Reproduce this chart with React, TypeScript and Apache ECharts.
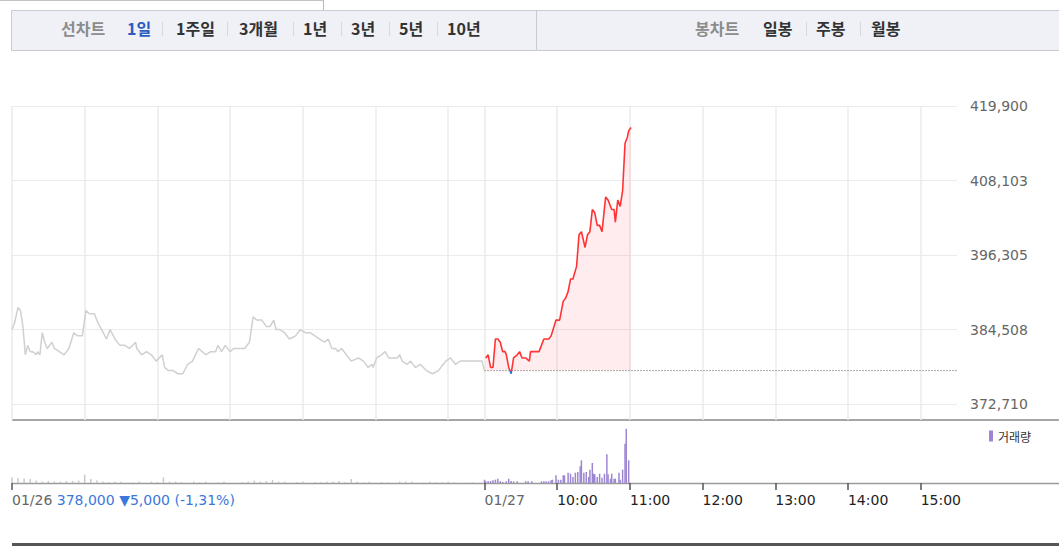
import React, { useEffect, useRef } from "react";
import * as echarts from "echarts";

// ---------- data ----------
// previous session (01/26), minutes after 09:00
const prevMinutes = [0, 2, 5, 7, 9, 11, 13, 15, 17, 20, 21, 23, 25, 27, 29, 33, 35, 39, 43, 47, 51, 54, 58, 61, 64, 68, 71, 74, 78, 81, 85, 89, 93, 97, 102, 103, 107, 111, 115, 119, 124, 126, 129, 133, 137, 141, 145, 149, 154, 157, 160, 164, 168, 170, 173, 176, 180, 183, 187, 192, 196, 199, 202, 206, 210, 213, 216, 218, 221, 225, 229, 234, 238, 242, 246, 250, 254, 258, 261, 264, 267, 269, 272, 276, 280, 286, 290, 294, 297, 298, 301, 305, 308, 311, 315, 318, 320, 322, 326, 329, 333, 337, 342, 347, 352, 356, 358, 362, 366, 370, 374, 381, 388, 390];
const prevPrices = [384500, 385500, 388000, 387500, 385000, 380500, 382000, 381000, 381000, 380500, 381000, 380500, 384000, 382500, 381500, 382500, 381500, 381000, 380500, 381500, 384000, 383500, 383500, 387500, 387000, 387000, 385500, 384500, 383000, 384500, 383000, 382000, 382000, 381500, 382500, 381500, 380500, 381000, 380500, 379500, 380500, 378500, 378000, 378000, 377500, 377500, 379000, 379500, 381500, 381000, 380500, 381000, 381000, 382000, 381000, 382000, 381000, 381500, 381500, 381500, 382500, 386500, 386000, 386000, 385000, 385000, 386000, 384500, 384500, 384000, 383000, 383500, 384500, 384000, 384000, 383500, 383000, 382500, 383000, 381500, 381500, 381000, 381500, 380500, 379500, 380000, 379500, 378500, 379000, 378500, 380000, 380500, 381000, 380000, 380000, 380000, 380500, 379500, 379000, 379500, 378500, 379000, 378000, 377500, 378000, 379000, 379500, 380000, 379000, 379500, 379500, 379500, 379500, 378000];

// current session (01/27), minutes on the same continuous axis (390 = 09:00)
const todayMinutes = [391, 393, 395, 397, 399, 401, 403, 405, 407, 408, 410, 412, 414, 417, 419, 421, 424, 427, 428, 432, 435, 439, 443, 445, 449, 452, 455, 457, 459, 461, 463, 466, 468, 470, 473, 475, 477, 479, 481, 483, 485, 487, 490, 492, 495, 497, 498, 500, 502, 504, 506, 508, 509, 511];
const todayPrices = [380000, 380500, 378500, 378500, 383000, 383000, 382500, 381000, 381000, 380500, 378500, 377500, 380000, 380500, 381000, 380000, 380000, 379500, 381000, 381000, 381000, 383000, 383000, 383500, 386000, 386000, 389000, 389500, 390500, 392500, 392500, 394500, 399500, 400000, 397500, 399500, 400000, 403500, 403000, 401000, 401000, 400000, 405500, 405000, 403500, 403500, 401500, 405000, 404000, 406500, 414000, 415000, 416000, 416500];

// volumes
const prevVolumes = [550, 500, 450, 400, 250, 150, 200, 150, 150, 200, 200, 250, 850, 400, 250, 150, 100, 150, 150, 0, 80, 150, 0, 150, 100, 550, 150, 150, 100, 0, 150, 100, 150, 0, 80, 150, 0, 0, 80, 150, 250, 150, 200, 300, 150, 150, 0, 100, 150, 0, 100, 80, 150, 150, 200, 100, 400, 150, 80, 150, 0, 100, 80, 0, 150, 150, 150, 0, 80, 150, 100, 100, 150, 100, 0, 0, 80, 0, 0];
const todayVolMinutes = [390, 391, 393, 395, 397, 399, 401, 403, 405, 408, 410, 412, 414, 417, 424, 426, 429, 437, 439, 441, 443, 445, 446, 449, 451, 453, 455, 456, 459, 461, 463, 465, 467, 469, 470, 472, 474, 476, 477, 479, 480, 481, 483, 485, 487, 489, 491, 492, 494, 495, 497, 498, 501, 502, 504, 506, 507, 509];
const todayVolumes = [330, 170, 170, 200, 270, 330, 430, 170, 100, 170, 430, 200, 170, 170, 170, 170, 170, 170, 170, 170, 170, 270, 330, 770, 330, 330, 770, 770, 1030, 930, 600, 1030, 1100, 1670, 2270, 1030, 1100, 600, 1330, 2000, 930, 870, 600, 930, 530, 930, 2870, 870, 430, 930, 430, 430, 1030, 330, 1330, 3930, 5430, 2270];

const prevClose = 378000;
const closeLineMinutes = [390, 780];
const summaryText = "378,000 ▼5,000 (-1,31%)";

// axes
const yTicks = [372710, 384508, 396305, 408103, 419900];
const gridMinutes = [0, 60, 120, 180, 240, 300, 360, 390, 450, 510, 570, 630, 690, 750];
const xTickMinutes = [0, 390, 450, 510, 570, 630, 690, 750];
const xTickLabels = ["01/26", "01/27", "10:00", "11:00", "12:00", "13:00", "14:00", "15:00"];

const leftTabs = ["선차트", "1일", "1주일", "3개월", "1년", "3년", "5년", "10년"];
const rightTabs = ["봉차트", "일봉", "주봉", "월봉"];

// ---------- layout ----------
const W = 1059;
const H = 546;
const leftTabX = [61, 127, 176, 239, 303, 351, 399, 447];
const leftSepX = [162, 227, 293, 341, 389, 437];
const rightTabX = [695, 763, 816, 871];
const rightSepX = [806, 860];

const FONT = "DejaVu Sans";
const KFONT = "Noto Sans CJK KR";

function buildOption() {
  const base = yTicks[0];
  const span = yTicks[4] - yTicks[0];
  const interval = span / 4;
  const rel = (v: number) => v - base;
  const closeRel = rel(prevClose);

  const gridX = (gi: number) => ({
    gridIndex: gi,
    type: "value",
    min: 0,
    max: 780,
    axisLine: { show: false },
    axisTick: { show: false, customValues: gridMinutes },
    axisLabel: { show: false },
    splitLine: { show: true, lineStyle: { color: "#ebebeb", width: 1.5 } },
  });

  const graphics: any[] = [];
  graphics.push({ type: "line", silent: true, shape: { x1: 0, y1: 0.5, x2: 323.5, y2: 0.5 }, style: { stroke: "#c4c4c4", lineWidth: 1 } });
  graphics.push({ type: "line", silent: true, shape: { x1: 323.5, y1: 0, x2: 323.5, y2: 10 }, style: { stroke: "#b8b8b8", lineWidth: 1 } });
  graphics.push({ type: "rect", silent: true, shape: { x: 11.5, y: 10.5, width: 1060, height: 40 }, style: { fill: "#f0f1f6", stroke: "#c9cbd2", lineWidth: 1 } });
  graphics.push({ type: "line", silent: true, shape: { x1: 536.5, y1: 10.5, x2: 536.5, y2: 50.5 }, style: { stroke: "#c9cbd2", lineWidth: 1 } });
  leftTabs.forEach((t, i) => {
    graphics.push({
      type: "text",
      silent: true,
      x: leftTabX[i],
      y: 28,
      style: {
        text: t,
        fill: i === 0 ? "#8c8c8c" : i === 1 ? "#2b5bc2" : "#333333",
        font: `bold 16px "${KFONT}"`,
        verticalAlign: "middle",
        align: "left",
      },
    });
  });
  rightTabs.forEach((t, i) => {
    graphics.push({
      type: "text",
      silent: true,
      x: rightTabX[i],
      y: 28,
      style: {
        text: t,
        fill: i === 0 ? "#8c8c8c" : "#333333",
        font: `bold 16px "${KFONT}"`,
        verticalAlign: "middle",
        align: "left",
      },
    });
  });
  [...leftSepX, ...rightSepX].forEach((x) => {
    graphics.push({ type: "line", silent: true, shape: { x1: x + 0.5, y1: 22, x2: x + 0.5, y2: 36 }, style: { stroke: "#d6d8de", lineWidth: 1 } });
  });
  graphics.push({ type: "rect", silent: true, shape: { x: 12, y: 419, width: W - 12, height: 2 }, style: { fill: "#a6a6a6" } });
  graphics.push({ type: "line", silent: true, shape: { x1: 12, y1: 483.5, x2: W, y2: 483.5 }, style: { stroke: "#9a9a9a", lineWidth: 1.5 } });
  graphics.push({ type: "rect", silent: true, shape: { x: 12, y: 543, width: W - 12, height: 3 }, style: { fill: "#555555" } });

  return {
    animation: false,
    backgroundColor: "#ffffff",
    textStyle: { fontFamily: FONT },
    grid: [
      { left: 12, top: 106, width: 945, height: 298 },
      { left: 12, top: 404, width: 945, height: 16 },
      { left: 12, top: 421, width: 945, height: 62 },
    ],
    xAxis: [
      gridX(0),
      gridX(1),
      {
        gridIndex: 2,
        type: "value",
        min: 0,
        max: 780,
        axisLine: { show: false },
        axisTick: { show: true, customValues: xTickMinutes, length: 7, lineStyle: { color: "#555", width: 1.5 } },
        splitLine: { show: false },
        axisLabel: {
          customValues: xTickMinutes,
          align: "left",
          margin: 10,
          fontFamily: FONT,
          fontSize: 14,
          formatter: (v: number) => {
            const i = xTickMinutes.indexOf(v);
            if (i < 0) return "";
            if (i === 0) return `{d|${xTickLabels[0]}} {p|${summaryText}}`;
            if (i === 1) return `{d|${xTickLabels[1]}}`;
            return `{t|${xTickLabels[i]}}`;
          },
          rich: {
            d: { color: "#666666", fontSize: 14, fontFamily: FONT },
            p: { color: "#3a78dc", fontSize: 14, fontFamily: FONT },
            t: { color: "#222222", fontSize: 14, fontFamily: FONT },
          },
        },
      },
    ],
    yAxis: [
      {
        gridIndex: 0,
        type: "value",
        position: "right",
        min: 0,
        max: span,
        interval,
        axisLine: { show: false },
        axisTick: { show: false },
        splitLine: { show: true, lineStyle: { color: "#ebebeb", width: 1 } },
        axisLabel: {
          color: "#666666",
          fontSize: 14,
          fontFamily: FONT,
          margin: 13,
          formatter: (v: number) => {
            const k = Math.round(v / interval);
            return yTicks[k] !== undefined ? yTicks[k].toLocaleString("en-US") : "";
          },
        },
      },
      { gridIndex: 1, type: "value", show: false, min: 0, max: 1 },
      { gridIndex: 2, type: "value", show: false, min: 0, max: 6200 },
    ],
    visualMap: {
      type: "piecewise",
      show: false,
      seriesIndex: 1,
      dimension: 1,
      pieces: [
        { gte: -span, lt: closeRel, color: "#2d6fe6" },
        { gte: closeRel, lte: span * 2, color: "#ff3333" },
      ],
    },
    legend: {
      data: [{ name: "거래량", icon: "rect", itemStyle: { color: "#9c86d2" } }],
      left: 989,
      top: 430,
      padding: 0,
      itemWidth: 4,
      itemHeight: 11,
      selectedMode: false,
      textStyle: { fontSize: 12, color: "#333333", fontFamily: KFONT },
    },
    series: [
      {
        type: "line",
        name: "01/26",
        xAxisIndex: 0,
        yAxisIndex: 0,
        showSymbol: false,
        silent: true,
        lineStyle: { color: "#d0d0d0", width: 1.5 },
        itemStyle: { color: "#d0d0d0" },
        data: prevMinutes.map((m, i) => [m, rel(prevPrices[i])]),
      },
      {
        type: "line",
        name: "01/27",
        xAxisIndex: 0,
        yAxisIndex: 0,
        showSymbol: false,
        silent: true,
        z: 3,
        lineStyle: { width: 1.6 },
        areaStyle: { color: "rgba(255, 80, 95, 0.15)", origin: closeRel },
        data: todayMinutes.map((m, i) => [m, rel(todayPrices[i])]),
      },
      {
        type: "line",
        name: "전일종가",
        xAxisIndex: 0,
        yAxisIndex: 0,
        showSymbol: false,
        silent: true,
        z: 2,
        lineStyle: { type: [1, 2], color: "#555555", width: 1 },
        itemStyle: { color: "#555555" },
        data: closeLineMinutes.map((m) => [m, closeRel]),
      },
      {
        type: "bar",
        name: "거래량",
        xAxisIndex: 2,
        yAxisIndex: 2,
        silent: true,
        barWidth: 1.5,
        itemStyle: { color: "#c9c9c9" },
        data: prevVolumes.map((v, i) => [i * 5, v]),
      },
      {
        type: "bar",
        name: "거래량",
        xAxisIndex: 2,
        yAxisIndex: 2,
        silent: true,
        barWidth: 1.5,
        barGap: "-100%",
        itemStyle: { color: "#9c86d2" },
        data: todayVolMinutes.map((m, i) => [m, todayVolumes[i]]),
      },
    ],
    graphic: graphics,
  };
}

export default function App() {
  const ref = useRef<HTMLDivElement>(null);
  useEffect(() => {
    document.body.style.margin = "0";
    const chart = echarts.init(ref.current!, null, { renderer: "svg", width: W, height: H });
    chart.setOption(buildOption() as any);
    return () => chart.dispose();
  }, []);
  return <div ref={ref} style={{ width: W, height: H }} />;
}
